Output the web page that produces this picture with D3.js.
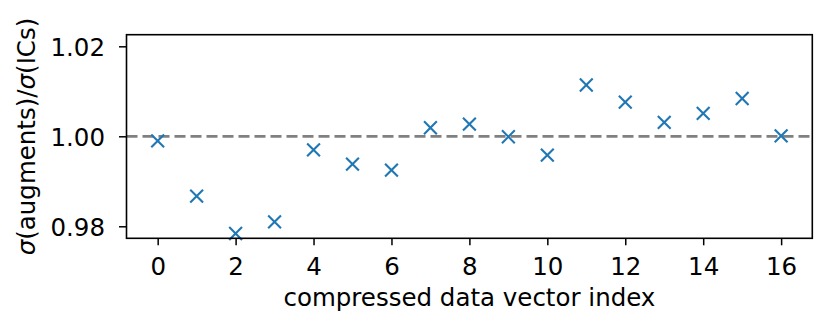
<!DOCTYPE html>
<html><head><meta charset="utf-8">
<script src="https://cdn.jsdelivr.net/npm/d3@7"></script>
<style>body{margin:0;background:#fff}svg{display:block}text{font-family:"DejaVu Sans",sans-serif;fill:#000}</style>
</head><body>
<script>
const indices = [0,1,2,3,4,5,6,7,8,9,10,11,12,13,14,15,16];
const ratios = [0.9990,0.9867,0.9784,0.9810,0.9970,0.9938,0.9925,1.0019,1.0027,0.9999,0.9958,1.0114,1.0076,1.0031,1.0051,1.0084,1.0001];
const xTicks = [0,2,4,6,8,10,12,14,16];
const yTicks = [0.98,1.00,1.02];
const refValue = 1.0;

const W=830,H=331;
const m={left:126.5,right:812.3,top:34.7,bottom:238.3};
const svg=d3.select("body").append("svg").attr("width",W).attr("height",H);
const x=d3.scaleLinear().domain([-0.8,16.8]).range([m.left,m.right]);
const y=d3.scaleLinear().domain([0.97733,1.02258]).range([m.bottom,m.top]);
const fs=24.5;

// ref line
svg.append("line").attr("x1",m.left).attr("x2",m.right).attr("y1",y(refValue)).attr("y2",y(refValue))
  .attr("stroke","#808080").attr("stroke-width",2.8).attr("stroke-dasharray","11,5");

// markers
const s=6.4;
const g=svg.append("g");
indices.forEach((d,i)=>{
  const cx=x(d),cy=y(ratios[i]);
  g.append("path").attr("d",`M${cx-s},${cy-s}L${cx+s},${cy+s}M${cx-s},${cy+s}L${cx+s},${cy-s}`)
   .attr("stroke","#1f77b4").attr("stroke-width",2.1).attr("fill","none");
});

// axes
const xa=svg.append("g").attr("transform",`translate(0,${m.bottom})`)
  .call(d3.axisBottom(x).tickValues(xTicks).tickFormat(d3.format("d")).tickSize(7).tickPadding(12));
const ya=svg.append("g").attr("transform",`translate(${m.left},0)`)
  .call(d3.axisLeft(y).tickValues(yTicks).tickFormat(d3.format(".2f")).tickSize(7.5).tickPadding(14));
[xa,ya].forEach(a=>{
  a.select(".domain").remove();
  a.selectAll(".tick line").attr("stroke","#000").attr("stroke-width",1.5);
  a.selectAll(".tick text").attr("font-size",fs).attr("font-family","DejaVu Sans").attr("fill","#000");
});
ya.selectAll(".tick text").attr("dy","0.36em");

// frame
svg.append("rect").attr("x",m.left).attr("y",m.top).attr("width",m.right-m.left).attr("height",m.bottom-m.top)
  .attr("fill","none").attr("stroke","#000").attr("stroke-width",1.6);

// labels
svg.append("text").attr("x",(m.left+m.right)/2).attr("y",306).attr("text-anchor","middle")
  .attr("font-size",fs).text("compressed data vector index");
const yl=svg.append("text").attr("transform",`translate(35,${(m.top+m.bottom)/2}) rotate(-90)`)
  .attr("text-anchor","middle").attr("font-size",fs);
yl.append("tspan").attr("font-style","italic").text("σ");
yl.append("tspan").text("(augments)/");
yl.append("tspan").attr("font-style","italic").text("σ");
yl.append("tspan").text("(ICs)");
</script>
</body></html>
